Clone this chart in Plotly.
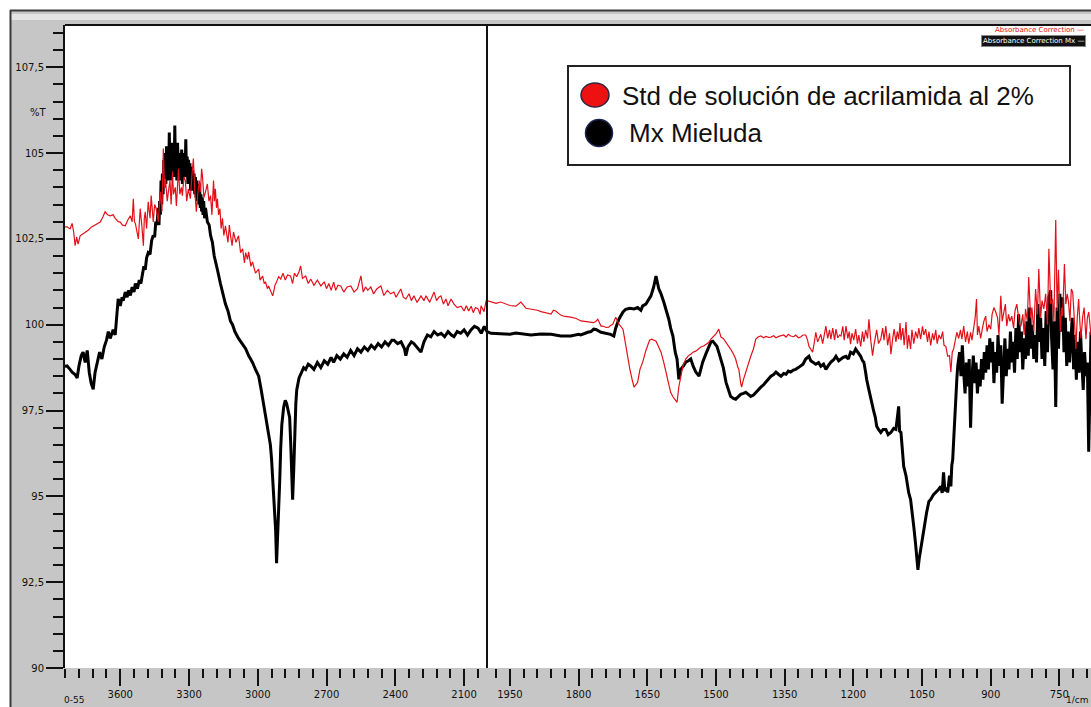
import plotly.graph_objects as go
from plotly.subplots import make_subplots

# ---------------- data (wavenumber cm-1, %T) ----------------
mx_mieluda_high = [
    (3841, 98.79), (3832, 98.80), (3819, 98.70), (3810, 98.62), (3797, 98.55), (3788, 98.45),
    (3780, 98.80), (3770, 99.10), (3762, 99.20), (3753, 98.90), (3744, 99.25), (3735, 98.60),
    (3727, 98.30), (3718, 98.12), (3710, 98.60), (3700, 98.95), (3690, 99.20), (3680, 99.00),
    (3670, 99.35), (3660, 99.55), (3652, 99.80), (3644, 99.60), (3631, 99.85), (3622, 99.70),
    (3615, 100.20), (3609, 100.75), (3600, 100.55), (3592, 100.80), (3587, 100.70), (3578, 100.95),
    (3570, 100.80), (3563, 101.00), (3556, 100.85), (3548, 101.10), (3540, 100.95), (3534, 101.20),
    (3525, 101.05), (3517, 101.30), (3510, 101.20), (3504, 101.50), (3497, 101.70), (3491, 101.60),
    (3485, 101.95), (3478, 102.10), (3470, 102.05), (3463, 102.45), (3456, 102.60), (3450, 102.55),
    (3445, 103.00), (3440, 102.90), (3434, 103.40), (3431, 102.90), (3428, 103.60), (3425, 103.20),
    (3422, 104.20), (3419, 103.50), (3416, 104.40), (3413, 103.80), (3410, 104.80), (3407, 104.00),
    (3404, 105.00), (3401, 104.10), (3398, 105.20), (3395, 104.30), (3392, 104.90), (3389, 104.20),
    (3386, 105.60), (3383, 104.40), (3380, 105.10), (3377, 104.20), (3374, 105.30), (3371, 104.50),
    (3368, 105.00), (3365, 104.30), (3362, 105.80), (3359, 104.50), (3356, 105.10), (3353, 104.20),
    (3350, 105.30), (3347, 104.60), (3344, 105.00), (3341, 104.20), (3338, 104.90), (3335, 104.40),
    (3332, 105.10), (3329, 104.10), (3326, 104.90), (3323, 104.30), (3320, 105.00), (3317, 104.40),
    (3314, 105.40), (3311, 104.30), (3308, 104.90), (3305, 104.10), (3302, 104.80), (3299, 104.20),
    (3296, 104.70), (3293, 103.90), (3290, 104.60), (3287, 104.00), (3284, 104.50), (3281, 103.90),
    (3278, 104.40), (3275, 103.80), (3272, 104.30), (3269, 103.70), (3266, 104.20), (3263, 103.60),
    (3260, 104.00), (3257, 103.50), (3254, 104.10), (3251, 103.40), (3248, 103.80), (3245, 103.30),
    (3242, 103.70), (3239, 103.20), (3236, 103.60), (3232, 103.10), (3228, 103.40),
    (3220, 103.00), (3212, 102.90), (3206, 102.60), (3198, 102.40), (3190, 102.00),
    (3182, 101.80), (3176, 101.60), (3163, 101.20), (3150, 100.80), (3141, 100.60), (3130, 100.40),
    (3119, 100.10), (3110, 100.00), (3100, 99.80), (3084, 99.60), (3070, 99.45), (3053, 99.30),
    (3040, 99.10), (3023, 98.90), (3010, 98.70), (2996, 98.50), (2985, 98.10), (2975, 97.70),
    (2965, 97.30), (2953, 96.90), (2945, 96.50), (2940, 96.10), (2935, 95.50), (2931, 95.00),
    (2926, 94.40), (2922, 94.00), (2918, 93.05), (2913, 93.80), (2909, 94.50), (2904, 95.50),
    (2900, 96.40), (2895, 97.10), (2887, 97.60), (2880, 97.80), (2874, 97.70), (2867, 97.50),
    (2861, 97.30), (2856, 96.50), (2852, 95.90), (2848, 94.90), (2843, 95.80), (2839, 96.90),
    (2834, 97.70), (2830, 98.10), (2820, 98.45), (2813, 98.55), (2800, 98.75), (2791, 98.70),
    (2780, 98.85), (2769, 98.80), (2755, 98.70), (2740, 98.90), (2725, 98.75), (2710, 98.95),
    (2695, 98.85), (2680, 99.05), (2669, 98.90), (2655, 99.10), (2640, 99.00), (2625, 99.15),
    (2610, 99.05), (2595, 99.25), (2580, 99.10), (2565, 99.30), (2550, 99.20), (2535, 99.35),
    (2520, 99.25), (2505, 99.40), (2490, 99.30), (2475, 99.45), (2460, 99.35), (2445, 99.50),
    (2430, 99.40), (2415, 99.55), (2406, 99.55), (2390, 99.45), (2375, 99.50), (2360, 99.30),
    (2354, 99.10), (2345, 99.35), (2330, 99.50), (2319, 99.45), (2305, 99.35), (2295, 99.25),
    (2288, 99.20), (2275, 99.50), (2260, 99.70), (2245, 99.65), (2231, 99.80), (2215, 99.70),
    (2200, 99.75), (2185, 99.65), (2170, 99.80), (2155, 99.70), (2144, 99.65), (2130, 99.80),
    (2115, 99.75), (2100, 99.85), (2085, 99.70), (2070, 99.85), (2055, 99.95), (2039, 99.90),
    (2025, 99.75), (2012, 99.95), (2000, 99.80),
]

mx_mieluda_low = [
    (1991, 99.75), (1970, 99.73), (1950, 99.72), (1937, 99.76), (1920, 99.74), (1904, 99.70),
    (1882, 99.73), (1860, 99.72), (1839, 99.67), (1817, 99.67), (1800, 99.72), (1795, 99.70),
    (1780, 99.78), (1773, 99.80), (1767, 99.87), (1762, 99.86), (1751, 99.78), (1740, 99.74),
    (1730, 99.72), (1723, 99.67), (1719, 99.90), (1712, 100.16), (1703, 100.37), (1697, 100.45),
    (1688, 100.48), (1679, 100.46), (1671, 100.50), (1664, 100.42), (1660, 100.55), (1653, 100.60),
    (1647, 100.75), (1642, 100.84), (1636, 101.10), (1631, 101.42), (1625, 101.05), (1620, 100.90),
    (1614, 100.66), (1609, 100.45), (1603, 100.16), (1599, 99.90), (1594, 99.67), (1589, 99.20),
    (1585, 99.00), (1581, 98.41), (1577, 98.70), (1571, 98.80), (1566, 98.91), (1560, 98.95),
    (1555, 99.00), (1550, 98.80), (1544, 98.62), (1537, 98.50), (1533, 98.70), (1529, 98.91),
    (1522, 99.15), (1516, 99.37), (1511, 99.50), (1507, 99.52), (1502, 99.45), (1498, 99.37),
    (1494, 99.20), (1489, 99.00), (1484, 98.75), (1478, 98.32), (1472, 98.05), (1468, 97.91),
    (1462, 97.85), (1457, 97.83), (1450, 97.92), (1446, 97.97), (1440, 98.00), (1435, 98.03),
    (1430, 97.98), (1424, 97.91), (1418, 97.95), (1413, 98.03), (1408, 98.10), (1402, 98.18),
    (1396, 98.25), (1391, 98.32), (1385, 98.40), (1380, 98.50), (1374, 98.55), (1369, 98.62),
    (1363, 98.55), (1358, 98.50), (1352, 98.58), (1347, 98.56), (1342, 98.65), (1337, 98.62),
    (1331, 98.68), (1326, 98.70), (1320, 98.75), (1315, 98.79), (1310, 98.85), (1304, 99.00),
    (1300, 99.05), (1297, 99.08), (1293, 98.95), (1289, 98.91), (1282, 98.85), (1276, 98.90),
    (1271, 98.79), (1265, 98.85), (1260, 98.70), (1254, 98.82), (1249, 98.91), (1243, 98.98),
    (1238, 99.08), (1232, 98.95), (1227, 99.00), (1222, 99.05), (1216, 99.08), (1211, 99.00),
    (1206, 99.20), (1200, 99.15), (1195, 99.29), (1190, 99.20), (1184, 99.08), (1180, 98.95),
    (1177, 98.91), (1173, 98.60), (1171, 98.41), (1166, 98.10), (1162, 97.83), (1158, 97.60),
    (1155, 97.45), (1152, 97.30), (1149, 97.04), (1145, 96.95), (1140, 96.86), (1135, 96.95),
    (1129, 96.95), (1124, 96.80), (1118, 96.86), (1112, 96.98), (1107, 96.95), (1101, 97.62),
    (1099, 96.90), (1096, 96.86), (1090, 95.87), (1085, 95.60), (1083, 95.40), (1079, 95.10),
    (1075, 94.91), (1071, 94.50), (1068, 94.12), (1064, 93.60), (1062, 93.36), (1059, 92.86),
    (1056, 93.20), (1053, 93.45), (1049, 93.80), (1046, 94.12), (1042, 94.40), (1040, 94.53),
    (1035, 94.85), (1031, 94.91), (1025, 95.05), (1020, 95.11), (1014, 95.20), (1009, 95.29),
    (1006, 95.10), (1003, 95.70), (1000, 95.15), (996, 95.25), (994, 95.11), (990, 95.60),
    (987, 95.29), (985, 95.90), (983, 96.07), (981, 96.60), (979, 97.24), (976, 97.80),
    (974, 98.41), (972, 98.80), (970, 99.00),
]

mx_mieluda_fingerprint = [
    (968, 99.2), (965, 98.5), (962, 99.4), (959, 98.6), (956, 98.0), (953, 98.9), (950, 98.2),
    (947, 99.0), (944, 97.0), (941, 98.4), (938, 99.1), (935, 98.3), (932, 98.9), (929, 98.0),
    (926, 98.7), (923, 98.2), (920, 99.0), (917, 98.4), (914, 99.2), (911, 98.6), (908, 99.4),
    (905, 98.7), (902, 99.6), (899, 98.9), (896, 99.5), (893, 98.3), (890, 99.2), (887, 98.6),
    (884, 99.7), (881, 98.8), (878, 99.4), (875, 97.7), (872, 98.9), (869, 99.6), (866, 98.5),
    (863, 99.3), (860, 98.7), (857, 99.8), (854, 98.9), (851, 99.5), (848, 98.6), (845, 99.9),
    (842, 99.0), (839, 100.3), (836, 99.2), (833, 99.8), (830, 98.7), (827, 99.6), (824, 99.0),
    (821, 100.1), (818, 99.1), (815, 100.5), (812, 99.3), (809, 100.0), (806, 99.0), (803, 99.7),
    (800, 98.9), (797, 100.6), (794, 99.5), (791, 100.2), (788, 99.0), (785, 99.9), (782, 98.8),
    (779, 100.4), (776, 99.2), (773, 100.8), (769, 101.0), (767, 99.6), (764, 98.7), (761, 100.1),
    (758, 97.6), (755, 100.5), (752, 99.3), (749, 100.9), (746, 99.8), (743, 100.8), (740, 99.2),
    (737, 100.2), (734, 98.8), (731, 99.8), (728, 98.9), (725, 99.5), (722, 100.2), (719, 98.7),
    (716, 99.7), (713, 98.4), (710, 99.5), (707, 98.6), (704, 99.8), (701, 98.9), (698, 98.1),
    (695, 99.2), (692, 98.5), (689, 98.9), (686, 96.3), (683, 98.4), (681, 99.8),
]

std_acrilamida_high = [
    (3841, 102.85), (3832, 102.85), (3819, 102.79), (3810, 102.95), (3803, 102.70), (3797, 102.30),
    (3790, 102.55), (3784, 102.35), (3775, 102.59), (3762, 102.65), (3753, 102.70), (3740, 102.75),
    (3725, 102.85), (3709, 102.90), (3700, 102.95), (3687, 102.99), (3675, 103.15), (3666, 103.29),
    (3655, 103.20), (3644, 103.17), (3631, 103.20), (3622, 103.10), (3609, 103.00), (3600, 102.99),
    (3590, 102.90), (3578, 102.88), (3567, 103.05), (3556, 103.17), (3548, 103.00), (3543, 103.67),
    (3538, 103.00), (3534, 102.95), (3521, 102.50), (3517, 103.10), (3513, 103.38), (3506, 102.90),
    (3499, 102.30), (3495, 103.10), (3491, 103.29), (3485, 102.80), (3478, 103.58), (3470, 103.10),
    (3465, 103.76), (3456, 102.99), (3450, 103.50), (3443, 103.38), (3434, 103.00), (3425, 103.87),
    (3418, 103.30), (3412, 105.13), (3407, 104.00), (3403, 104.25), (3395, 103.60), (3390, 103.87),
    (3383, 104.20), (3378, 103.50), (3372, 104.46), (3368, 103.80), (3360, 104.00), (3355, 103.46),
    (3350, 104.30), (3346, 104.54), (3340, 103.80), (3333, 104.00), (3329, 103.76), (3322, 104.30),
    (3316, 104.20), (3310, 103.60), (3303, 103.95), (3294, 103.67), (3288, 104.30), (3281, 104.84),
    (3275, 103.90), (3268, 103.29), (3262, 103.80), (3255, 104.20), (3250, 103.87), (3245, 104.54),
    (3241, 104.30), (3235, 103.70), (3228, 103.87), (3220, 104.10), (3213, 103.60), (3206, 103.76),
    (3200, 103.20), (3193, 104.20), (3189, 103.60), (3185, 103.96), (3180, 103.40), (3176, 103.67),
    (3171, 103.20), (3165, 103.38), (3160, 102.80), (3154, 103.10), (3148, 102.60), (3141, 102.88),
    (3130, 102.40), (3124, 102.90), (3119, 102.60), (3112, 102.30), (3106, 102.70), (3095, 102.40),
    (3084, 102.59), (3075, 102.10), (3066, 102.21), (3058, 101.80), (3053, 102.10), (3045, 101.90),
    (3040, 102.12), (3030, 101.70), (3023, 101.83), (3010, 101.50), (2996, 101.62), (2990, 101.30),
    (2979, 101.42), (2972, 101.20), (2966, 101.24), (2958, 101.05), (2953, 101.13), (2944, 101.00),
    (2935, 100.84), (2931, 100.95), (2925, 101.15), (2918, 101.24), (2909, 101.40), (2900, 101.33),
    (2890, 101.50), (2880, 101.30), (2870, 101.45), (2857, 101.42), (2848, 101.20), (2840, 101.50),
    (2830, 101.40), (2820, 101.55), (2813, 101.71), (2805, 101.35), (2791, 101.42), (2780, 101.20),
    (2769, 101.33), (2755, 101.15), (2740, 101.30), (2725, 101.13), (2710, 101.25), (2700, 101.05),
    (2690, 101.20), (2680, 101.00), (2669, 101.24), (2660, 101.00), (2650, 101.15), (2638, 101.13),
    (2625, 100.95), (2610, 101.10), (2594, 101.13), (2580, 100.95), (2565, 101.05), (2550, 101.42),
    (2540, 100.95), (2530, 101.10), (2520, 101.00), (2507, 101.10), (2495, 100.90), (2480, 101.05),
    (2463, 101.13), (2450, 100.85), (2435, 101.00), (2420, 100.90), (2406, 100.95), (2397, 100.80),
    (2385, 100.95), (2376, 101.04), (2365, 100.80), (2354, 100.75), (2340, 100.90), (2330, 100.70),
    (2319, 100.84), (2305, 100.65), (2288, 100.84), (2275, 100.70), (2266, 100.84), (2250, 100.65),
    (2231, 100.95), (2220, 100.70), (2210, 100.80), (2201, 100.84), (2190, 100.60), (2179, 100.75),
    (2170, 100.55), (2157, 100.75), (2144, 100.60), (2130, 100.50), (2113, 100.54), (2100, 100.40),
    (2090, 100.55), (2080, 100.40), (2069, 100.54), (2060, 100.35), (2050, 100.50), (2039, 100.46),
    (2030, 100.30), (2026, 100.55), (2013, 100.38), (2004, 100.69), (2000, 100.70),
]

std_acrilamida_low = [
    (1991, 100.66), (1980, 100.62), (1970, 100.66), (1960, 100.60), (1950, 100.56), (1937, 100.54),
    (1930, 100.60), (1926, 100.66), (1915, 100.48), (1904, 100.46), (1890, 100.42), (1882, 100.38),
    (1870, 100.34), (1860, 100.31), (1855, 100.42), (1850, 100.40), (1839, 100.28), (1830, 100.24),
    (1817, 100.22), (1805, 100.18), (1795, 100.11), (1785, 100.10), (1773, 100.08), (1767, 100.06),
    (1762, 100.10), (1758, 100.16), (1751, 99.96), (1747, 99.96), (1740, 99.92), (1734, 99.93),
    (1730, 99.98), (1725, 100.02), (1719, 100.22), (1712, 100.02), (1703, 99.87), (1697, 99.37),
    (1692, 99.00), (1688, 98.70), (1683, 98.40), (1679, 98.18), (1675, 98.25), (1671, 98.32),
    (1666, 98.70), (1660, 98.91), (1653, 99.25), (1649, 99.43), (1645, 99.55), (1640, 99.58),
    (1636, 99.55), (1631, 99.52), (1625, 99.35), (1620, 99.20), (1614, 98.90), (1609, 98.62),
    (1603, 98.25), (1599, 98.03), (1594, 97.90), (1589, 97.80), (1585, 97.74), (1581, 98.20),
    (1577, 98.50), (1572, 98.80), (1566, 99.00), (1560, 99.10), (1555, 99.14), (1550, 99.20),
    (1544, 99.23), (1537, 99.30), (1533, 99.35), (1527, 99.38), (1522, 99.43), (1516, 99.48),
    (1511, 99.58), (1505, 99.65), (1500, 99.73), (1494, 99.87), (1491, 99.70), (1489, 99.64),
    (1484, 99.60), (1478, 99.49), (1473, 99.40), (1468, 99.29), (1462, 99.15), (1457, 99.00),
    (1452, 98.75), (1450, 98.70), (1446, 98.30), (1444, 98.18), (1440, 98.40), (1435, 98.62),
    (1430, 98.85), (1424, 99.08), (1418, 99.30), (1413, 99.58), (1408, 99.64), (1402, 99.67),
    (1396, 99.62), (1391, 99.66), (1385, 99.63), (1380, 99.64), (1374, 99.68), (1369, 99.62),
    (1363, 99.66), (1358, 99.67), (1352, 99.70), (1347, 99.64), (1342, 99.72), (1337, 99.67),
    (1330, 99.65), (1326, 99.70), (1320, 99.62), (1315, 99.64), (1310, 99.70), (1304, 99.70),
    (1300, 99.55), (1297, 99.37), (1293, 99.30), (1289, 99.20), (1285, 99.50), (1282, 99.78),
]

std_acrilamida_fingerprint = [
    (1278, 99.50), (1276, 99.58), (1271, 99.72), (1267, 99.45), (1263, 99.80), (1260, 99.96),
    (1256, 99.60), (1252, 99.85), (1249, 99.58), (1245, 99.90), (1241, 99.55), (1238, 99.87),
    (1234, 99.62), (1230, 99.70), (1227, 99.67), (1223, 99.95), (1220, 99.55), (1216, 99.96),
    (1212, 99.60), (1209, 99.80), (1206, 99.43), (1203, 99.75), (1199, 99.55), (1195, 99.87),
    (1191, 99.45), (1188, 99.70), (1184, 99.37), (1180, 99.80), (1177, 99.50), (1173, 99.85),
    (1169, 99.60), (1166, 100.16), (1162, 99.55), (1158, 99.10), (1155, 99.40), (1151, 99.80),
    (1149, 99.85), (1145, 99.45), (1140, 99.58), (1136, 99.90), (1133, 99.55), (1129, 99.96),
    (1125, 99.40), (1121, 99.75), (1118, 99.14), (1114, 99.60), (1111, 99.87), (1107, 99.50),
    (1104, 99.80), (1101, 99.58), (1098, 100.05), (1096, 99.55), (1092, 99.90), (1089, 99.40),
    (1085, 100.08), (1082, 99.30), (1079, 99.70), (1075, 99.29), (1072, 99.85), (1068, 99.45),
    (1064, 99.80), (1060, 99.60), (1057, 99.90), (1053, 99.58), (1049, 99.95), (1046, 99.70),
    (1042, 99.87), (1038, 99.50), (1035, 99.80), (1031, 99.40), (1027, 99.75), (1024, 99.55),
    (1020, 99.85), (1017, 99.45), (1013, 99.70), (1009, 99.58), (1005, 99.80), (1002, 99.40),
    (998, 99.37), (994, 99.08), (990, 99.10), (987, 98.62), (984, 99.20), (981, 99.29),
    (977, 99.60), (974, 99.78), (970, 99.60), (966, 99.85), (963, 99.58), (959, 99.96),
    (955, 99.50), (951, 99.80), (948, 99.45), (944, 99.78), (941, 99.55), (937, 99.90),
    (934, 100.20), (931, 100.75), (929, 99.70), (926, 99.96), (922, 99.60), (918, 99.90),
    (915, 100.10), (911, 100.25), (908, 99.80), (904, 100.00), (900, 99.87), (897, 100.30),
    (893, 100.50), (889, 100.37), (885, 100.20), (882, 99.70), (878, 100.84), (875, 100.10),
    (872, 100.37), (868, 100.60), (865, 99.96), (861, 100.30), (858, 100.10), (854, 100.25),
    (850, 99.90), (847, 100.40), (843, 100.60), (841, 100.37), (837, 100.00), (834, 99.96),
    (830, 100.30), (827, 99.70), (824, 100.46), (820, 100.10), (817, 101.39), (813, 100.20),
    (810, 100.50), (806, 99.80), (802, 101.04), (798, 100.30), (795, 101.62), (791, 100.20),
    (788, 100.70), (784, 100.46), (780, 100.90), (776, 100.00), (773, 102.21), (769, 100.60),
    (765, 100.75), (762, 100.10), (758, 103.05), (755, 100.40), (752, 101.60), (748, 99.80),
    (745, 100.50), (743, 100.25), (739, 101.77), (736, 100.60), (733, 100.90), (730, 100.66),
    (727, 100.10), (724, 101.04), (721, 100.95), (718, 100.30), (714, 99.29), (711, 100.20),
    (708, 100.75), (705, 100.00), (703, 99.60), (699, 100.25), (696, 100.50), (692, 99.58),
    (689, 100.20), (686, 100.37), (683, 99.90), (681, 99.70),
]

series_names = ["Std de solución de acrilamida al 2%", "Mx Mieluda"]
x_ticks_high = [3600, 3300, 3000, 2700, 2400, 2100]
x_ticks_low = [1950, 1800, 1650, 1500, 1350, 1200, 1050, 900, 750]
y_ticks = [90, 92.5, 95, 97.5, 100, 102.5, 105, 107.5]
y_tick_text = ["90", "92,5", "95", "97,5", "100", "102,5", "105", "107,5"]

mx_pts = mx_mieluda_high + mx_mieluda_low + mx_mieluda_fingerprint
std_pts = std_acrilamida_high + std_acrilamida_low + std_acrilamida_fingerprint
mx_x = [p[0] for p in mx_pts]
mx_y = [p[1] for p in mx_pts]
std_x = [p[0] for p in std_pts]
std_y = [p[1] for p in std_pts]

# ---------------- figure ----------------
W, H = 1091, 707
ML, MR, MT, MB = 65, 0, 25, 39
PW, PH = W - ML - MR, H - MT - MB
COLW = [422, 604]


def px(xp):
    return (xp - ML) / PW


def py(yp):
    return (H - MB - yp) / PH


fig = make_subplots(rows=1, cols=2, shared_yaxes=True, horizontal_spacing=0,
                    column_widths=COLW)

RED = "#e3101a"
for col in (1, 2):
    fig.add_trace(go.Scatter(x=mx_x, y=mx_y, mode="lines", name=series_names[1],
                             line=dict(color="#000000", width=3), showlegend=False),
                  row=1, col=col)
    fig.add_trace(go.Scatter(x=std_x, y=std_y, mode="lines", name=series_names[0],
                             line=dict(color=RED, width=1.2), showlegend=False),
                  row=1, col=col)

tickfont = dict(family="DejaVu Sans", size=10, color="#111111")
common_x = dict(showgrid=False, zeroline=False, showline=False, ticks="outside",
                ticklen=17, tickwidth=2, tickcolor="#111111", tickfont=tickfont,
                tickmode="array")
fig.update_xaxes(range=[3841, 2000], tickvals=x_ticks_high,
                 ticktext=[str(v) for v in x_ticks_high],
                 minor=dict(ticks="outside", ticklen=9, tickwidth=2, tickcolor="#111111",
                            tick0=3600, dtick=60),
                 **common_x, row=1, col=1)
fig.update_xaxes(range=[2000, 681], tickvals=x_ticks_low,
                 ticktext=[str(v) for v in x_ticks_low],
                 minor=dict(ticks="outside", ticklen=9, tickwidth=2, tickcolor="#111111",
                            tick0=1950, dtick=30),
                 **common_x, row=1, col=2)
fig.update_yaxes(range=[90, 108.73], tickmode="array", tickvals=y_ticks, ticktext=y_tick_text,
                 ticks="outside", ticklen=17, tickwidth=2, tickcolor="#111111",
                 tickfont=tickfont, showgrid=False, zeroline=False,
                 showline=True, linewidth=2, linecolor="#111111",
                 minor=dict(ticks="outside", ticklen=10, tickwidth=2, tickcolor="#111111",
                            tick0=90, dtick=0.5),
                 row=1, col=1)
fig.update_yaxes(showticklabels=False, ticks="", showline=False, showgrid=False,
                 zeroline=False, minor=dict(ticks=""), row=1, col=2)

split_x = COLW[0] / sum(COLW)
shapes = [
    # white outer margin (left / top)
    dict(type="rect", xref="paper", yref="paper", x0=px(-5), x1=px(10), y0=py(720), y1=py(-5),
         fillcolor="white", line=dict(width=0), layer="below"),
    dict(type="rect", xref="paper", yref="paper", x0=px(-5), x1=px(1100), y0=py(10), y1=py(-5),
         fillcolor="white", line=dict(width=0), layer="below"),
    # bevel stripe of the top band
    dict(type="rect", xref="paper", yref="paper", x0=px(11), x1=px(1100), y0=py(20), y1=py(14),
         fillcolor="#e4e4e4", line=dict(width=0), layer="below"),
    # dark outer frame lines
    dict(type="line", xref="paper", yref="paper", x0=px(10.5), x1=px(10.5), y0=py(720), y1=py(10),
         line=dict(color="#3a3a3a", width=2)),
    dict(type="line", xref="paper", yref="paper", x0=px(10), x1=px(1100), y0=py(10.5), y1=py(10.5),
         line=dict(color="#3a3a3a", width=2)),
    # top edge of plot area
    dict(type="line", xref="paper", yref="paper", x0=0, x1=1, y0=1, y1=1,
         line=dict(color="#111111", width=2)),
    # split line at 2000 cm-1 (boundary of the two scales)
    dict(type="line", xref="paper", yref="paper", x0=split_x, x1=split_x, y0=0, y1=1,
         line=dict(color="#111111", width=2)),
    # legend box
    dict(type="rect", xref="paper", yref="paper", x0=px(568), x1=px(1070), y0=py(165), y1=py(66),
         fillcolor="white", line=dict(color="#222222", width=2)),
    dict(type="circle", xref="paper", yref="paper", x0=px(581), x1=px(609), y0=py(107), y1=py(83),
         fillcolor="#ee1111", line=dict(color="#2b2440", width=1.5)),
    dict(type="circle", xref="paper", yref="paper", x0=px(585.5), x1=px(612.5), y0=py(146.5),
         y1=py(119.5), fillcolor="#000000", line=dict(color="#1c2450", width=1.5)),
]
fig.update_layout(shapes=shapes)

legfont = dict(family="Liberation Sans, Arial", size=26, color="#111111")
small = dict(family="DejaVu Sans", size=9, color="#111111")
annotations = [
    dict(text=series_names[0], x=px(620), y=py(96), xref="paper", yref="paper",
         xanchor="left", yanchor="middle", showarrow=False, font=legfont),
    dict(text=series_names[1], x=px(627), y=py(133), xref="paper", yref="paper",
         xanchor="left", yanchor="middle", showarrow=False, font=legfont),
    dict(text="%T", x=px(38), y=py(112), xref="paper", yref="paper", xanchor="center",
         yanchor="middle", showarrow=False,
         font=dict(family="DejaVu Sans", size=10, color="#111111")),
    dict(text="0-55", x=px(74), y=py(700), xref="paper", yref="paper", xanchor="center",
         yanchor="middle", showarrow=False, font=small),
    dict(text="1/cm", x=px(1090), y=py(700), xref="paper", yref="paper", xanchor="right",
         yanchor="middle", showarrow=False, font=small),
    dict(text="Absorbance Correction —", x=px(1086), y=py(30), xref="paper", yref="paper",
         xanchor="right", yanchor="middle", showarrow=False,
         font=dict(family="DejaVu Sans", size=7, color="#e01010")),
    dict(text="Absorbance Correction Mx —", x=px(1086), y=py(40.5), xref="paper", yref="paper",
         xanchor="right", yanchor="middle", showarrow=False, bgcolor="#111111",
         bordercolor="#888888", borderwidth=1, borderpad=1,
         font=dict(family="DejaVu Sans", size=7, color="#ffffff")),
]
fig.update_layout(annotations=annotations)

fig.update_layout(
    width=W, height=H,
    margin=dict(l=ML, r=MR, t=MT, b=MB, pad=0),
    paper_bgcolor="#c6c6c6", plot_bgcolor="white",
    showlegend=False,
)

fig.write_html("out.html")
